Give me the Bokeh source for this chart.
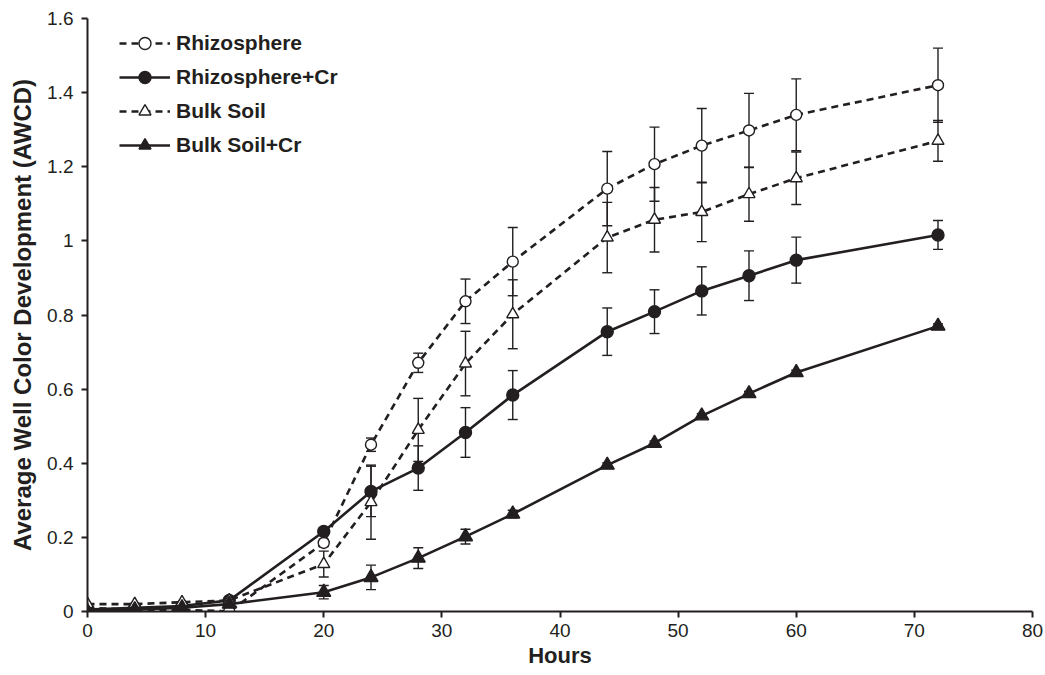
from bokeh.plotting import figure
from bokeh.models import (ColumnDataSource, Range1d, FixedTicker, CustomJSTickFormatter,
                          Whisker, TeeHead, Legend, LegendItem)
from bokeh.embed import file_html
from bokeh.resources import INLINE

# ---- data ----
hours = [0, 4, 8, 12, 20, 24, 28, 32, 36, 44, 48, 52, 56, 60, 72]

rhizo = [0.01, 0.005, 0.005, 0.0, 0.185, 0.45, 0.671, 0.837, 0.944, 1.141, 1.207, 1.257, 1.298, 1.340, 1.420]
rhizo_err = [0, 0, 0, 0, 0.01, 0.018, 0.026, 0.06, 0.092, 0.10, 0.10, 0.10, 0.10, 0.097, 0.10]

rhizo_cr = [0.005, 0.01, 0.015, 0.03, 0.216, 0.324, 0.387, 0.483, 0.584, 0.755, 0.809, 0.865, 0.906, 0.948, 1.016]
rhizo_cr_err = [0, 0, 0, 0, 0.01, 0.068, 0.06, 0.067, 0.066, 0.064, 0.059, 0.065, 0.067, 0.062, 0.039]

bulk = [0.02, 0.02, 0.025, 0.03, 0.128, 0.295, 0.490, 0.669, 0.802, 1.009, 1.057, 1.078, 1.126, 1.169, 1.270]
bulk_err = [0, 0, 0, 0, 0.035, 0.10, 0.085, 0.087, 0.093, 0.095, 0.087, 0.08, 0.073, 0.071, 0.055]

bulk_cr = [0.0, 0.005, 0.01, 0.02, 0.052, 0.092, 0.144, 0.202, 0.263, 0.395, 0.454, 0.528, 0.588, 0.645, 0.770]
bulk_cr_err = [0, 0, 0, 0, 0.018, 0.033, 0.028, 0.02, 0.01, 0.006, 0.006, 0.006, 0.006, 0.006, 0.006]

labels = ["Rhizosphere", "Rhizosphere+Cr", "Bulk Soil", "Bulk Soil+Cr"]
x_ticks = [0, 10, 20, 30, 40, 50, 60, 70, 80]
y_ticks = [0, 0.2, 0.4, 0.6, 0.8, 1.0, 1.2, 1.4, 1.6]

INK = "#231f20"
FONT = "Liberation Sans"

p = figure(width=1045, height=675, output_backend="svg", toolbar_location=None,
           x_range=Range1d(0, 80), y_range=Range1d(0, 1.6),
           min_border_left=87, min_border_right=13, min_border_top=18, min_border_bottom=64)
p.outline_line_color = None
p.grid.visible = False
p.background_fill_color = "white"

# axes
p.xaxis.ticker = FixedTicker(ticks=x_ticks)
p.yaxis.ticker = FixedTicker(ticks=y_ticks)
p.yaxis.formatter = CustomJSTickFormatter(code="return String(Number(tick.toFixed(2)));")
for ax in (p.xaxis[0], p.yaxis[0]):
    ax.axis_line_color = INK
    ax.axis_line_width = 2
    ax.major_tick_line_color = INK
    ax.major_tick_line_width = 2
    ax.major_tick_out = 6
    ax.major_tick_in = 0
    ax.minor_tick_line_color = None
    ax.major_label_text_font = FONT
    ax.major_label_text_font_size = "19px"
    ax.major_label_text_color = INK
    ax.axis_label_text_font = FONT
    ax.axis_label_text_font_style = "bold"
    ax.axis_label_text_color = INK
p.xaxis.axis_label = "Hours"
p.yaxis.axis_label = "Average Well Color Development (AWCD)"
p.xaxis.axis_label_text_font_size = "22px"
p.yaxis.axis_label_text_font_size = "24px"
p.xaxis.major_label_standoff = 6
p.xaxis.axis_label_standoff = 3
p.yaxis.major_label_standoff = 8
p.yaxis.axis_label_standoff = 8

series = [
    (labels[0], rhizo, rhizo_err, "7 5", "circle", "white", 11),
    (labels[1], rhizo_cr, rhizo_cr_err, "solid", "circle", INK, 12),
    (labels[2], bulk, bulk_err, "7 5", "triangle", "white", 12),
    (labels[3], bulk_cr, bulk_cr_err, "solid", "triangle", INK, 14),
]

line_rs = []
for name, vals, errs, dash, marker, fill, size in series:
    src = ColumnDataSource(dict(x=hours, y=vals))
    lr = p.line("x", "y", source=src, line_color=INK, line_width=2.6, line_dash=dash)
    line_rs.append(lr)
    # error bars
    bx, up, lo = [], [], []
    for h, v, e in zip(hours, vals, errs):
        if e > 0:
            bx.append(h); up.append(v + e); lo.append(v - e)
    esrc = ColumnDataSource(dict(base=bx, upper=up, lower=lo))
    w = Whisker(base="base", upper="upper", lower="lower", source=esrc,
                line_color=INK, line_width=1.4,
                upper_head=TeeHead(size=10, line_color=INK, line_width=1.4),
                lower_head=TeeHead(size=10, line_color=INK, line_width=1.4))
    p.add_layout(w)

items = []
for (name, vals, errs, dash, marker, fill, size), lr in zip(series, line_rs):
    src = ColumnDataSource(dict(x=hours, y=vals))
    sr = p.scatter("x", "y", source=src, marker=marker, size=size,
                   fill_color=fill, line_color=INK, line_width=1.4)
    items.append(LegendItem(label=name, renderers=[lr, sr]))

legend = Legend(items=items, location=(32, 451), padding=0, margin=0,
                glyph_width=51, glyph_height=30, label_height=30, spacing=4,
                label_standoff=6, label_text_font=FONT, label_text_font_style="bold",
                label_text_font_size="21px", label_text_color=INK,
                border_line_color=None, background_fill_alpha=0)
p.add_layout(legend)

open("out.html", "w").write(file_html(p, INLINE))
